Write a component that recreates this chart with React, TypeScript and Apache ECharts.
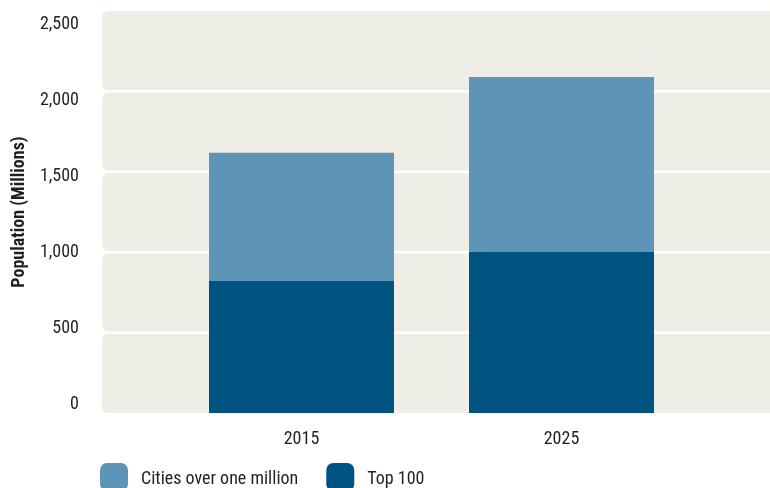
import React, { useEffect, useRef } from "react";
import * as echarts from "echarts";

const categories = ["2015", "2025"];
const top100 = [821, 1001];
const citiesOverOneMillionTotal = [1618, 2090];
const yTicks = [0, 500, 1000, 1500, 2000, 2500];
const bands = [
  [0, 500],
  [500, 1000],
  [1000, 1500],
  [1500, 2000],
  [2000, 2500],
];

const FONT = "'Liberation Sans Narrow', 'Roboto Condensed', 'DejaVu Sans Condensed', 'Noto Sans', sans-serif";
const TEXT = "#231f20";

export default function App() {
  const ref = useRef<HTMLDivElement>(null);
  useEffect(() => {
    if (!ref.current) return;
    const chart = echarts.init(ref.current, undefined, { renderer: "svg" });
    const remainder = citiesOverOneMillionTotal.map((t, i) => t - top100[i]);
    const yMax = yTicks[yTicks.length - 1];
    chart.setOption({
      animation: false,
      textStyle: { fontFamily: FONT, color: TEXT },
      grid: [
        { left: 102, right: 0, top: 11, bottom: 75, containLabel: false, outerBoundsMode: "none" },
        { left: 171.5, width: 520, top: 11, bottom: 75, containLabel: false, outerBoundsMode: "none" },
      ],
      xAxis: [
        { gridIndex: 0, type: "value", min: 0, max: 1, show: false },
        {
          gridIndex: 1,
          type: "category",
          data: categories,
          axisLine: { show: false },
          axisTick: { show: false },
          axisLabel: { fontSize: 18, color: TEXT, margin: 15, fontFamily: FONT },
        },
      ],
      yAxis: [
        {
          gridIndex: 0,
          type: "value",
          position: "left",
          min: 0,
          max: yMax,
          interval: 500,
          axisLine: { show: false },
          axisTick: { show: false },
          axisLabel: { show: false },
          splitLine: { show: false },
          name: "Population (Millions)",
          nameLocation: "middle",
          nameGap: 76,
          nameTextStyle: { fontSize: 18, fontWeight: "bold", color: TEXT, fontFamily: FONT },
        },
        {
          gridIndex: 0,
          type: "value",
          position: "left",
          offset: 0,
          min: -65.8,
          max: 2578.9,
          axisLine: { show: false },
          axisTick: { show: false },
          splitLine: { show: false },
          axisLabel: {
            customValues: yTicks,
            fontSize: 18,
            color: TEXT,
            margin: 23,
            fontFamily: FONT,
            formatter: (v: number) => v.toLocaleString("en-US"),
          },
        },
        { gridIndex: 1, type: "value", min: 0, max: yMax, show: false },
      ],
      legend: {
        left: 100,
        top: 463,
        padding: 0,
        itemWidth: 28,
        itemHeight: 28,
        itemGap: 28,
        icon: "roundRect",
        data: ["Cities over one million", "Top 100"],
        textStyle: { fontSize: 18, color: TEXT, fontFamily: FONT, padding: [0, 0, 0, 8] },
      },
      series: [
        {
          type: "custom",
          xAxisIndex: 0,
          yAxisIndex: 0,
          silent: true,
          clip: false,
          data: bands,
          encode: { y: [0, 1] },
          renderItem: (params: any, api: any) => {
            const v0 = api.value(0);
            const v1 = api.value(1);
            const cs = params.coordSys;
            const yb = api.coord([0, v0])[1];
            const yt = api.coord([0, v1])[1];
            const insetB = v0 === 0 ? 0 : 1.2;
            const insetT = v1 === yMax ? 0 : 1.2;
            return {
              type: "rect",
              shape: {
                x: cs.x,
                y: yt + insetT,
                width: cs.width + 20,
                height: yb - yt - insetT - insetB,
                r: 6,
              },
              style: { fill: "#eeeee6" },
            };
          },
        },
        {
          name: "Top 100",
          type: "bar",
          xAxisIndex: 1,
          yAxisIndex: 2,
          stack: "total",
          barWidth: 185,
          data: top100,
          itemStyle: { color: "#005280" },
        },
        {
          name: "Cities over one million",
          type: "bar",
          xAxisIndex: 1,
          yAxisIndex: 2,
          stack: "total",
          barWidth: 185,
          data: remainder,
          itemStyle: { color: "#5e94b6" },
        },
      ],
    });
    return () => chart.dispose();
  }, []);
  return (
    <div
      ref={ref}
      style={{ position: "fixed", left: 0, top: 0, width: 770, height: 488 }}
    />
  );
}
